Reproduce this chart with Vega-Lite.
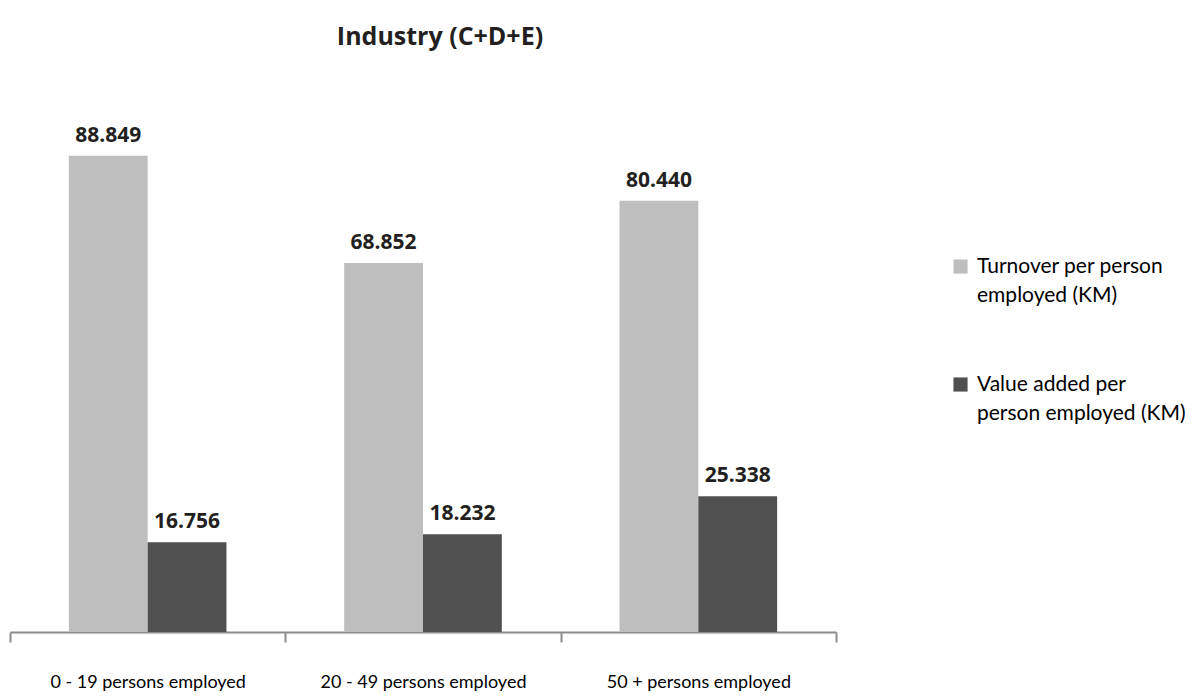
{
  "$schema": "https://vega.github.io/schema/vega-lite/v6.json",
  "width": 826,
  "height": 536,
  "autosize": {"type": "none"},
  "padding": {"left": 10, "top": 96, "right": 365, "bottom": 66},
  "background": "white",
  "title": {
    "text": "Industry (C+D+E)",
    "font": "Open Sans",
    "fontSize": 25,
    "fontWeight": "bold",
    "color": "#231F20",
    "anchor": "middle",
    "dx": 17,
    "offset": 46
  },
  "data": {
    "values": [
      {"group": "0 - 19  persons employed", "series": "Turnover per person employed (KM)", "value": 88.849, "label": "88.849"},
      {"group": "0 - 19  persons employed", "series": "Value added per person employed (KM)", "value": 16.756, "label": "16.756"},
      {"group": "20 - 49  persons employed", "series": "Turnover per person employed (KM)", "value": 68.852, "label": "68.852"},
      {"group": "20 - 49  persons employed", "series": "Value added per person employed (KM)", "value": 18.232, "label": "18.232"},
      {"group": "50 +  persons employed", "series": "Turnover per person employed (KM)", "value": 80.44, "label": "80.440"},
      {"group": "50 +  persons employed", "series": "Value added per person employed (KM)", "value": 25.338, "label": "25.338"}
    ]
  },
  "encoding": {
    "x": {
      "field": "group",
      "type": "nominal",
      "sort": null,
      "title": null,
      "scale": {"paddingInner": 0, "paddingOuter": 0},
      "axis": {
        "labelAngle": 0,
        "labelFont": "Lato",
        "labelFontSize": 18,
        "labelLimit": 0,
        "labelColor": "#000000",
        "labelPadding": 31,
        "domainColor": "#8C8C8C",
        "domainWidth": 2,
        "tickColor": "#8C8C8C",
        "tickWidth": 2,
        "tickSize": 10,
        "tickBand": "extent",
        "grid": false
      }
    },
    "xOffset": {
      "field": "series",
      "type": "nominal",
      "sort": null,
      "scale": {"paddingOuter": 0.747, "paddingInner": 0}
    },
    "y": {
      "field": "value",
      "type": "quantitative",
      "scale": {"domain": [0, 100]},
      "axis": null
    }
  },
  "layer": [
    {
      "mark": {"type": "bar"},
      "encoding": {
        "color": {
          "field": "series",
          "type": "nominal",
          "sort": null,
          "scale": {"range": ["#BFBEBF", "#505050"]},
          "legend": {
            "title": null,
            "orient": "none",
            "legendX": 940,
            "legendY": 160,
            "symbolType": "square",
            "symbolSize": 200,
            "symbolStrokeWidth": 0,
            "labelFont": "Lato",
            "labelFontSize": 21,
            "labelColor": "#000000",
            "labelLimit": 300,
            "labelOffset": 6,
            "rowPadding": 67,
            "labelExpr": "datum.label == 'Turnover per person employed (KM)' ? ['Turnover per person', 'employed (KM)'] : ['Value added per', 'person employed (KM)']",
            "encode": {
              "labels": {"update": {"lineHeight": {"value": 29}}}
            }
          }
        }
      }
    },
    {
      "mark": {
        "type": "text",
        "baseline": "bottom",
        "dy": -10,
        "font": "Open Sans",
        "fontSize": 21,
        "fontWeight": "bold",
        "color": "#231F20"
      },
      "encoding": {
        "text": {"field": "label", "type": "nominal"}
      }
    }
  ],
  "config": {"view": {"stroke": null}}
}
